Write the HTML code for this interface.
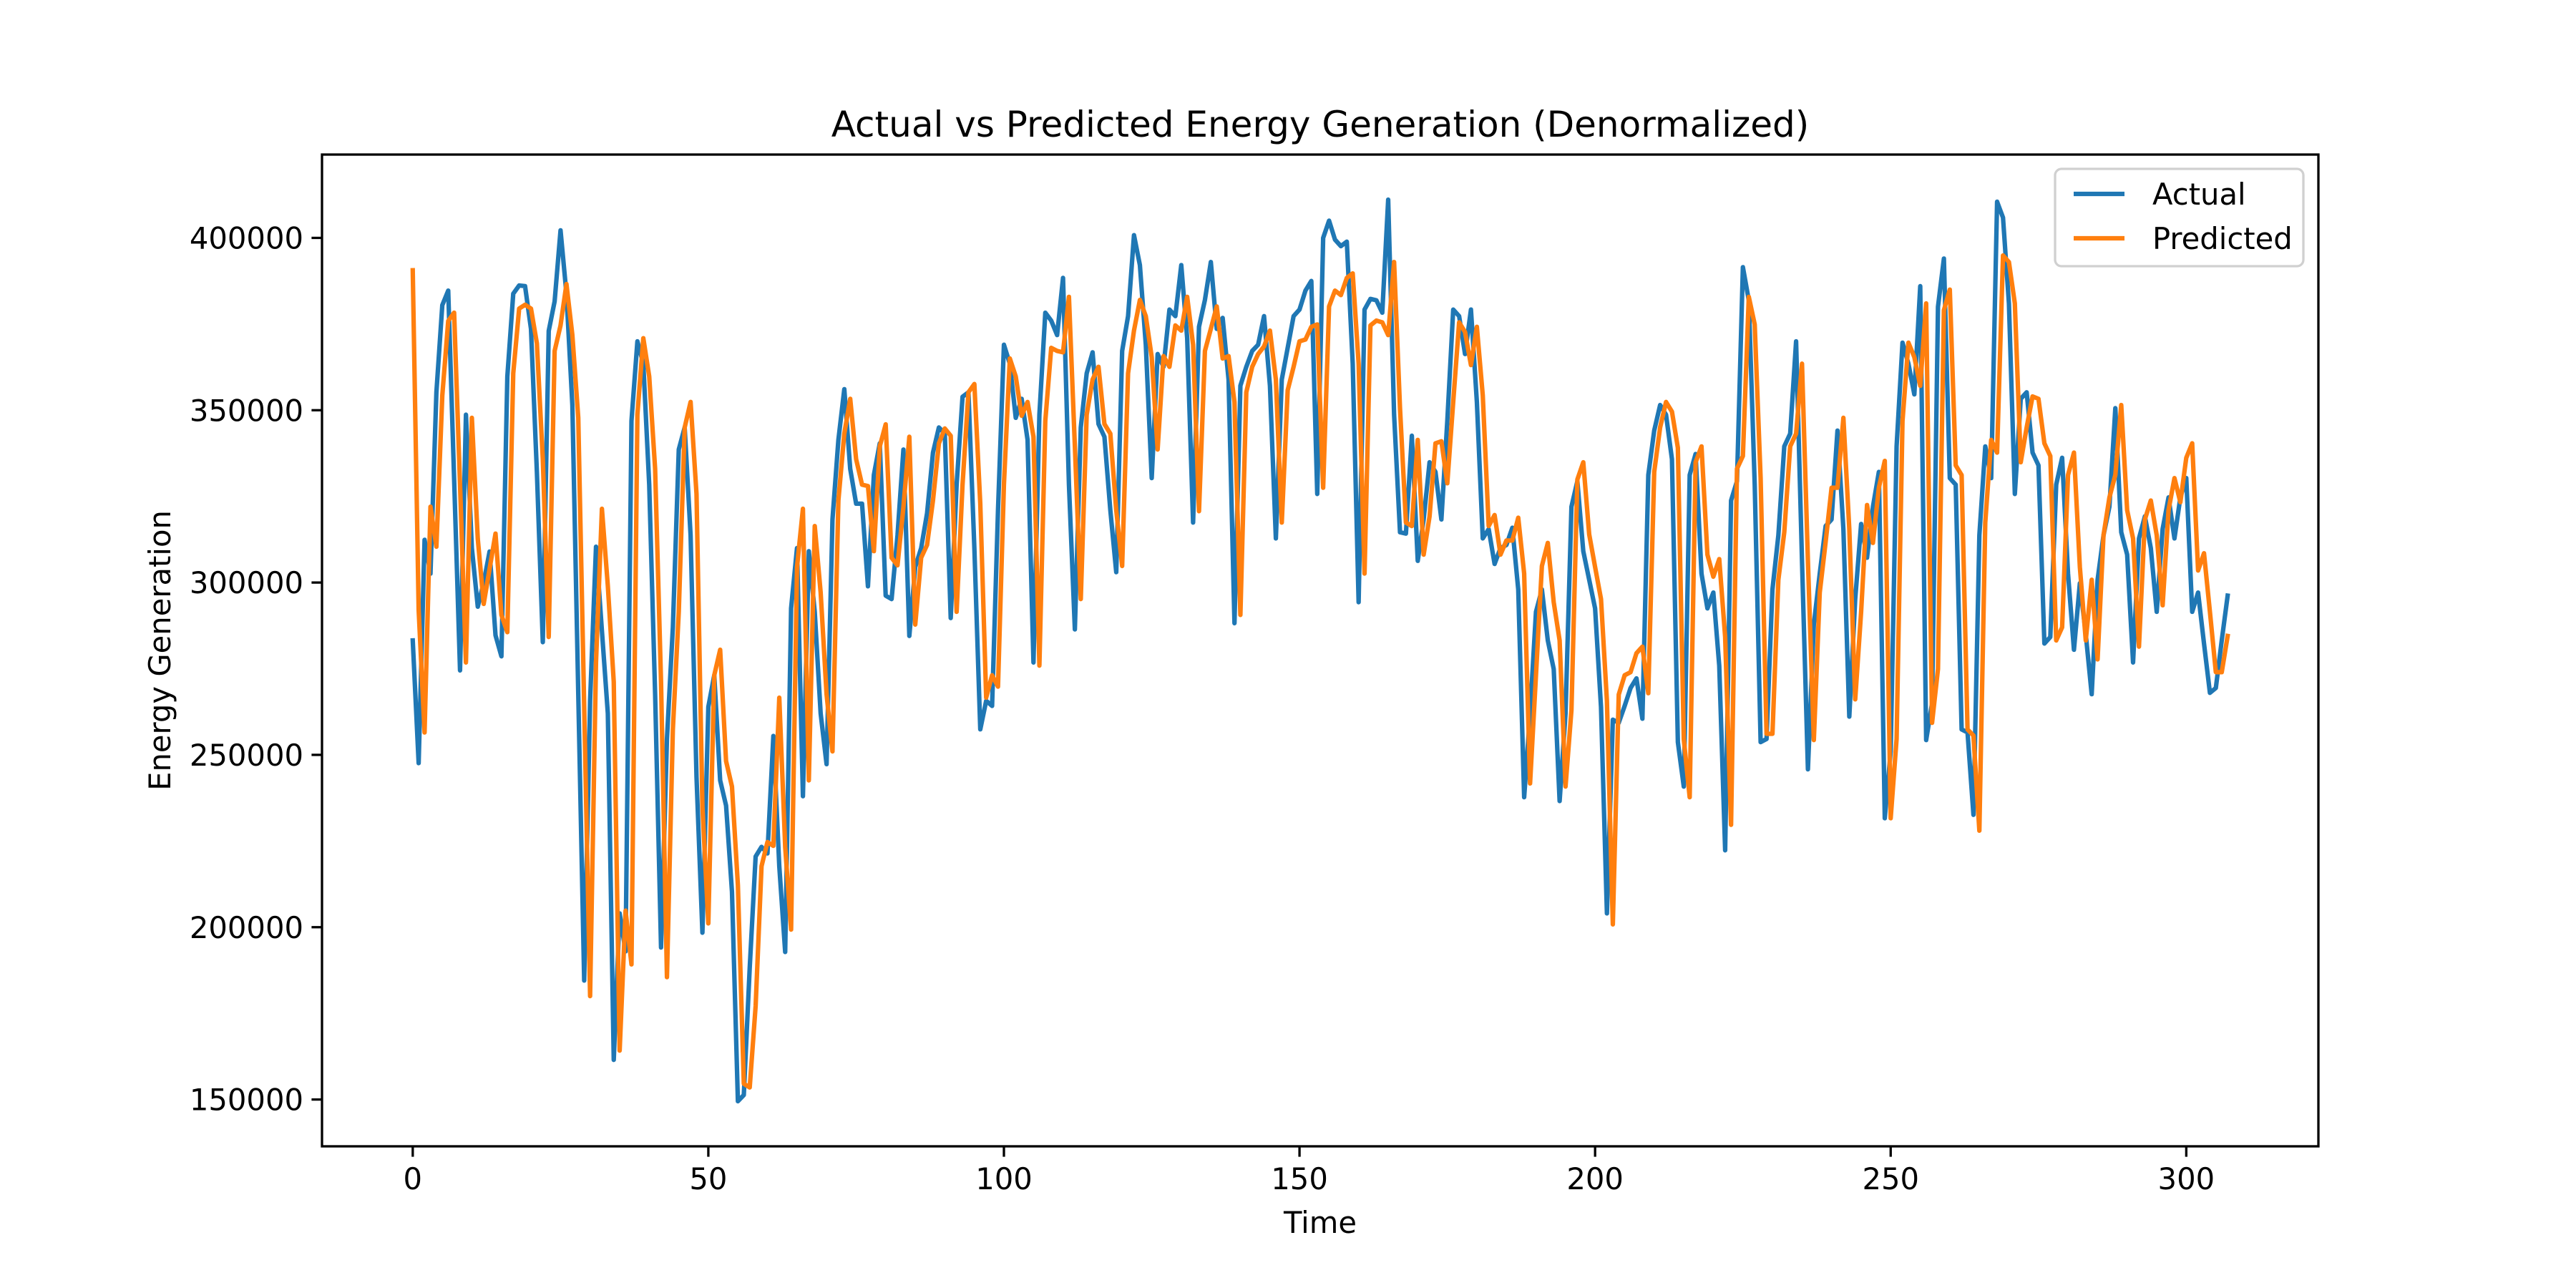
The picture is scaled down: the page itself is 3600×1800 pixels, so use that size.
<!DOCTYPE html>
<html>
<head>
<meta charset="utf-8">
<style>
html,body{margin:0;padding:0;background:#fff;}
svg{display:block;}
text{font-family:"DejaVu Sans","Liberation Sans",sans-serif;fill:#000;}
</style>
</head>
<body>
<svg id="chart" width="3600" height="1800" viewBox="0 0 3600 1800" xmlns="http://www.w3.org/2000/svg">
  <rect x="0" y="0" width="3600" height="1800" fill="#fff"/>
  <text x="1845" y="191" font-size="50" text-anchor="middle">Actual vs Predicted Energy Generation (Denormalized)</text>
  <text x="1845" y="1723" font-size="41.7" text-anchor="middle">Time</text>
  <text x="0" y="0" font-size="41.7" text-anchor="middle" transform="translate(238,909) rotate(-90)">Energy Generation</text>
  <g id="plot"></g>
  <g id="xticks"></g>
  <g id="yticks"></g>
  <rect x="450" y="216" width="2790" height="1386" fill="none" stroke="#000" stroke-width="3.3"/>
  <g>
    <rect x="2872" y="236" width="347" height="136" rx="9" fill="#fff" fill-opacity="0.8" stroke="#d0d0d0" stroke-width="3.3"/>
    <line x1="2898" y1="271" x2="2969" y2="271" stroke="#1f77b4" stroke-width="6.25"/>
    <text x="3008" y="286" font-size="41.7">Actual</text>
    <line x1="2898" y1="333" x2="2969" y2="333" stroke="#ff7f0e" stroke-width="6.25"/>
    <text x="3008" y="348" font-size="41.7">Predicted</text>
  </g>
</svg>
<script>
const actual = [283.2,247.6,312.4,302.6,355.2,380.5,384.7,330,274.5,348.7,310,293,300,309,284.7,278.6,359.8,383.8,386.2,386,373.6,332,282.7,373,381.6,402.2,383.8,351.5,267.6,184.5,265.7,310.4,286,262,161.5,204,193,346.9,370,363.5,328.4,267.6,194.1,254.6,287,338.6,345,313.7,243.6,198.4,263.9,273.1,242.6,235.3,210.3,149.5,151.3,188.2,220.5,223.3,221.4,255.5,217.7,192.8,292.5,310,238,309.1,291.5,262,247.3,318.3,341.4,356.1,333,322.9,322.9,298.9,331.2,340.4,296.2,295.2,313.7,338.6,284.5,304.5,310,320.1,337.7,345,343.2,289.7,328.4,353.9,355.2,310,257.4,265.7,264.2,321,369,363.5,347.8,353.3,341.4,276.8,348.7,378.3,376,371.8,388.4,328.4,286.4,345,360.7,366.8,346,342.3,321,303,367.2,377.3,400.8,392.1,369,330.3,366.3,362.6,379.2,377.3,392.1,370.9,317.4,374.2,382,393,373.6,376.8,358.9,288.2,357.1,362.6,367.2,369,377.3,357.1,312.8,358.9,368.1,377.3,379.2,384.7,387.5,325.7,400,405,399.5,397.6,398.9,363.5,294.3,379.2,382.3,381.9,378.3,411.1,348.7,314.6,314.2,342.6,306.3,318.3,334.9,332.1,318.3,346.9,379.2,377.3,366.3,379.2,352.4,312.8,315.5,305.4,310,310.9,315.9,298,237.7,262,291.5,298,283.2,274.9,236.6,262,322,329.4,309.1,300.8,292.5,263.9,204,260.2,259.3,264.2,269.4,272.2,260.5,331.2,344.1,351.5,348.7,335.8,253.7,240.8,331.2,337.3,302.6,292.5,297.1,275.9,222.3,323.8,329.4,391.5,381.9,328.4,253.7,254.6,298,313.7,339.5,343.2,370,306.3,245.8,287.8,302.6,316.4,318.3,344.1,315.5,261.1,295.2,317,307.2,322,332.1,231.6,251,339.5,369.6,363.5,354.6,386,254.3,265,380,394,330.3,328.4,257.4,256.5,232.6,313.7,339.5,330.3,410.5,405.9,381,325.7,353.3,355.2,337.7,334,282.3,284.2,328.4,336.2,302.6,280.5,299.8,285,267.6,300.8,313.7,322,350.6,314.6,308.1,276.8,312.8,319.2,310,291.5,315.5,324.7,312.8,324.7,330.3,291.5,297.1,282.3,268,269.4,283.2,296.2];
const predicted = [390.6,292,256.5,322,310.4,354.3,375.9,378.3,328.4,276.8,347.8,312.7,293.8,304,314.2,290.6,285.6,360.7,379.5,380.6,379.5,369.4,335.8,284.2,367.2,374.6,386.6,371.8,347.8,264,180,276.8,321.4,299,271.2,164.2,204.8,189.2,348.7,370.9,359.8,333,271.2,185.5,257.4,291.5,345,352.4,325.7,235,201.1,273.1,280.5,248.2,240.8,212.2,154.6,153.5,177.1,217.7,224.7,223.6,266.6,223.3,199.3,304.5,321.4,242.6,316.4,297.1,267.6,251,323.8,343.2,353.3,335.8,328.4,328,309.1,339.5,345.9,307.2,305,321.9,342.3,287.8,307.2,310.9,323.8,340.4,344.7,342.6,291.5,328.4,355.2,357.6,322.9,266.6,273.1,269.8,328.4,365,359.8,348.4,352.4,342.3,275.9,346.9,368.1,367.2,366.8,382.9,339.5,295.2,348.7,358.9,362.6,346,343.2,321,304.8,360.7,373.1,382,377.3,365.4,338.6,365.7,362.6,374.6,373.1,382.9,369,320.7,367.2,373.6,380.1,365,365.7,352.4,290.6,355.2,362.6,366.3,368.5,373.1,358.9,317.4,355.8,362.6,370,370.5,374.2,374.9,327.5,380.1,384.7,383.4,388.4,389.7,363.5,302.6,374.6,376,375.5,371.8,393,350.6,317.4,316.4,341.4,308.1,319.2,340.4,341,328.8,352.4,375.5,372.7,363.1,374.2,354.3,316.4,319.6,308.1,312.2,312.2,318.8,302.6,241.7,273.1,304.8,311.5,294.3,283.2,240.8,263,329.9,334.9,314,304.5,295.2,265.7,200.8,267.5,273.1,274,279.5,281.4,267.9,332.1,345,352.4,349.6,339.1,254.6,237.7,334.9,339.5,308.1,301.7,306.8,284.2,229.7,333,336.7,382.9,374.9,330.3,256.1,256.1,300.8,314.6,339.5,343.2,363.5,306.3,254.3,297.1,311.8,327.5,327.5,347.8,315.5,266.1,291.5,322.5,311.5,327.5,335.3,231.6,254.6,346.9,369.6,365.4,357.1,381,259.3,274.9,379,385,334,331.2,257.4,255.6,228,317.4,341.4,337.7,394.9,393,381,334.9,345,354,353.3,340.4,336.7,283.2,287,331.2,337.7,304.5,283.2,300.8,277.7,313.7,324.7,331.2,351.5,321,312.8,281.4,318.3,323.8,313.7,293.4,321,330.3,323.3,336.2,340.4,303.5,308.5,291.5,274,274,284.5];
const xTickValues = [0,50,100,150,200,250,300];
const yTickValues = [150000,200000,250000,300000,350000,400000];
const yTickLabels = ["150000","200000","250000","300000","350000","400000"];

const NS = "http://www.w3.org/2000/svg";
const AX = {left:450,right:3240,top:216,bottom:1602};
const n = Math.max(actual.length, predicted.length);
const xPad = 0.05*(n-1);
const xMin = -xPad, xMax = (n-1)+xPad;
const all = actual.concat(predicted).map(v=>v*1000);
const dMin = Math.min(...all), dMax = Math.max(...all);
const yPad = 0.05*(dMax-dMin);
const yMin = dMin - yPad, yMax = dMax + yPad;
function xScale(t){ return AX.left + (t - xMin)/(xMax - xMin)*(AX.right - AX.left); }
function yScale(v){ return AX.bottom - (v - yMin)/(yMax - yMin)*(AX.bottom - AX.top); }

const plot = document.getElementById('plot');
function drawSeries(arr, color, name){
  const pts = arr.map((v,i)=>xScale(i).toFixed(2)+','+yScale(v*1000).toFixed(2)).join(' ');
  const pl = document.createElementNS(NS,'polyline');
  pl.setAttribute('points', pts);
  pl.setAttribute('fill','none');
  pl.setAttribute('stroke', color);
  pl.setAttribute('stroke-width','6.25');
  pl.setAttribute('stroke-linejoin','round');
  pl.setAttribute('stroke-linecap','square');
  
  
  plot.appendChild(pl);
}
drawSeries(actual, '#1f77b4', 'actual-line');
drawSeries(predicted, '#ff7f0e', 'predicted-line');

const xg = document.getElementById('xticks');
xTickValues.forEach(t=>{
  const x = xScale(t);
  const ln = document.createElementNS(NS,'line');
  ln.setAttribute('x1',x); ln.setAttribute('x2',x);
  ln.setAttribute('y1',AX.bottom); ln.setAttribute('y2',AX.bottom+14.6);
  ln.setAttribute('stroke','#000'); ln.setAttribute('stroke-width','3.3');
  
  
  xg.appendChild(ln);
  const tx = document.createElementNS(NS,'text');
  tx.setAttribute('x',x); tx.setAttribute('y',1662);
  tx.setAttribute('font-size','41.7'); tx.setAttribute('text-anchor','middle');
  tx.textContent = String(t);
  
  
  xg.appendChild(tx);
});
const yg = document.getElementById('yticks');
yTickValues.forEach((v,i)=>{
  const y = yScale(v);
  const ln = document.createElementNS(NS,'line');
  ln.setAttribute('x1',AX.left-14.6); ln.setAttribute('x2',AX.left);
  ln.setAttribute('y1',y); ln.setAttribute('y2',y);
  ln.setAttribute('stroke','#000'); ln.setAttribute('stroke-width','3.3');
  
  
  yg.appendChild(ln);
  const tx = document.createElementNS(NS,'text');
  tx.setAttribute('x',AX.left-26); tx.setAttribute('y',y+15);
  tx.setAttribute('font-size','41.7'); tx.setAttribute('text-anchor','end');
  tx.textContent = yTickLabels[i];
  
  
  yg.appendChild(tx);
});
</script>
</body>
</html>
